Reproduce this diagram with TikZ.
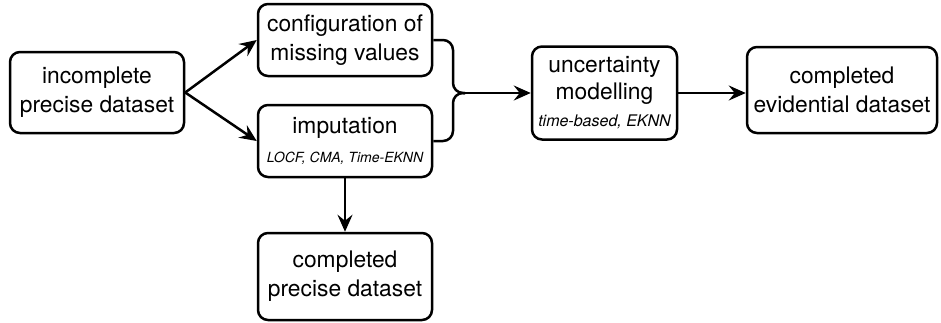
\documentclass[tikz,border=0pt]{standalone}
\usepackage{fontspec}
\setmainfont{TeX Gyre Heros}
\usetikzlibrary{arrows.meta}

\tikzset{
  ebox/.style={draw,line width=1.25pt,rounded corners=5pt,align=center,inner sep=0pt,
    font=\fontsize{11.4}{14.5}\selectfont},
  earrow/.style={-{Stealth[length=8.5pt,width=7.5pt,inset=3pt]},line width=1.25pt},
  ebrace/.style={line width=1.25pt,rounded corners=5pt},
}
\newcommand{\subtxt}[2][7]{{\fontsize{#1}{14.5}\selectfont\itshape #2}}

\begin{document}
\begin{tikzpicture}[x=0.5pt,y=-0.5pt]
        \useasboundingbox (0,0) rectangle (941,322);
        % the boxes
        \node[ebox,minimum width=87pt,minimum height=40.5pt] (inc) at (97,92.5) {incomplete\\precise dataset};
        \node[ebox,minimum width=87pt,minimum height=36pt] (conf) at (345,40) {configuration of\\missing values};
        \node[ebox,minimum width=87pt,minimum height=36pt] (imp) at (345,141) {imputation\\\subtxt{LOCF, CMA, Time-EKNN}};
        \node[ebox,minimum width=72.5pt,minimum height=46.5pt,font=\fontsize{11.4}{13.5}\selectfont] (unc) at (604.5,93) {uncertainty\\modelling\\\subtxt[8]{time-based, EKNN}};
        \node[ebox,minimum width=95pt,minimum height=43pt] (evi) at (842,90) {completed\\evidential dataset};
        \node[ebox,minimum width=87pt,minimum height=43.5pt] (pre) at (345,276.5) {completed\\precise dataset};
        % the connectors
        \coordinate (jn) at (453,93);
        \coordinate (mrg) at (465,93);
        \draw[earrow] (inc.east) -- (conf.west);
        \draw[earrow] (inc.east) -- (imp.west);
        \draw[ebrace] (conf.east) -| (jn) -- (mrg);
        \draw[ebrace] (imp.east) -| (jn) -- (mrg);
        \draw[earrow] (mrg) -- (unc.west);
        \draw[earrow] (unc.east) -- (evi.west |- unc.east);
        \draw[earrow] (imp.south) -- (pre.north);
\end{tikzpicture}
\end{document}
